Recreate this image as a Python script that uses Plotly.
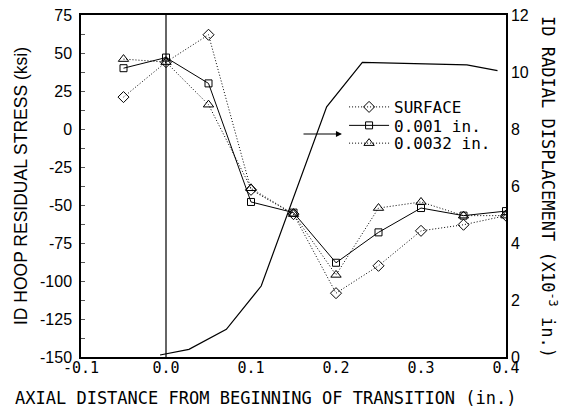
import plotly.graph_objects as go

# Stress data (left axis, ksi)
x_pos = [-0.05, 0.0, 0.05, 0.1, 0.15, 0.2, 0.25, 0.3, 0.35, 0.4]
surface = [21, 44, 62, -40, -56, -108, -90, -67, -63, -57]
depth_001 = [40, 47, 30, -48, -55, -88, -68, -52, -57, -54]
depth_0032 = [46, 44, 16, -39, -56, -96, -52, -48, -57, -57]

# Radial displacement (right axis, x10^-3 in.)
disp_x = [-0.007, 0.027, 0.071, 0.112, 0.189, 0.231, 0.354, 0.39]
disp_y = [0.07, 0.27, 0.97, 2.49, 8.78, 10.34, 10.25, 10.05]

# Tick labels
x_tick_vals = [-0.1, 0.0, 0.1, 0.2, 0.3, 0.4]
x_tick_text = ["-0.1", "0.0", "0.1", "0.2", "0.3", "0.4"]
y_tick_vals = [-150, -125, -100, -75, -50, -25, 0, 25, 50, 75]
y_tick_text = ["-150", "-125", "-100", "-75", "-50", "-25", "0", "25", "50", "75"]
y2_tick_vals = [0, 2, 4, 6, 8, 10, 12]
y2_tick_text = ["0", "2", "4", "6", "8", "10", "12"]

MONO = "DejaVu Sans Mono"
SANS = "Liberation Sans"
DOTS = "1px,2px"

fig = go.Figure()

fig.add_trace(go.Scatter(
    x=disp_x, y=disp_y, yaxis="y2", mode="lines",
    line=dict(color="black", width=1.2), showlegend=False))

fig.add_trace(go.Scatter(
    x=x_pos, y=surface, name="SURFACE", mode="lines+markers", legend="legend",
    line=dict(color="black", width=1, dash=DOTS),
    marker=dict(symbol="diamond-open", size=8.5, color="black", line=dict(width=1))))
fig.add_trace(go.Scatter(
    x=x_pos, y=depth_001, name="0.001 in.", mode="lines+markers", legend="legend2",
    line=dict(color="black", width=1),
    marker=dict(symbol="square-open", size=7, color="black", line=dict(width=1))))
fig.add_trace(go.Scatter(
    x=x_pos, y=depth_0032, name="0.0032 in.", mode="lines+markers", legend="legend3",
    line=dict(color="black", width=1, dash=DOTS),
    marker=dict(symbol="triangle-up-open", size=9, color="black", line=dict(width=1))))

# vertical reference line at x = 0
fig.add_shape(type="line", xref="x", yref="paper", x0=0, x1=0, y0=0, y1=1,
              line=dict(color="#666666", width=2), layer="below")

# arrow pointing to the right axis
fig.add_annotation(x=0.207, y=-3.3, ax=0.16, ay=-3.3, xref="x", yref="y",
                   axref="x", ayref="y", text="", showarrow=True,
                   arrowhead=2, arrowsize=1, arrowwidth=1.2, arrowcolor="black")

# Titles as annotations
fig.add_annotation(text="AXIAL DISTANCE FROM BEGINNING OF TRANSITION (in.)",
                   xref="paper", yref="paper", x=0.435, y=-0.12,
                   xanchor="center", yanchor="middle", showarrow=False,
                   font=dict(family=MONO, size=17, color="black"))
fig.add_annotation(text="ID HOOP RESIDUAL STRESS (ksi)",
                   xref="paper", yref="paper", x=-0.141, y=0.5,
                   xanchor="center", yanchor="middle", showarrow=False,
                   textangle=-90, font=dict(family=SANS, size=17.5, color="black"))
fig.add_annotation(text="ID RADIAL DISPLACEMENT (X10<sup>-3</sup> in.)",
                   xref="paper", yref="paper", x=1.101, y=0.497,
                   xanchor="center", yanchor="middle", showarrow=False,
                   textangle=90, font=dict(family=MONO, size=17, color="black"))

legend_common = dict(x=0.619, xanchor="left", yanchor="middle",
                     bgcolor="rgba(0,0,0,0)", borderwidth=0, itemwidth=40,
                     font=dict(family=MONO, size=16, color="black"))

fig.update_layout(
    width=565, height=409,
    margin=dict(l=81, r=59, t=15, b=52, autoexpand=False),
    paper_bgcolor="white", plot_bgcolor="white",
    xaxis=dict(range=[-0.1, 0.4], tickvals=x_tick_vals, ticktext=x_tick_text,
               showgrid=False, zeroline=False, showline=True, linecolor="black",
               linewidth=1.5, mirror=True, ticks="", automargin=False,
               ticklabelstandoff=-4,
               tickfont=dict(family=MONO, size=15, color="black")),
    yaxis=dict(range=[-150, 75], tickvals=y_tick_vals, ticktext=y_tick_text,
               showgrid=False, zeroline=False, showline=True, linecolor="black",
               linewidth=1.5, mirror=True, ticks="inside", ticklen=4,
               tickcolor="#555555", automargin=False, ticklabelstandoff=4,
               minor=dict(dtick=12.5, ticks="inside", ticklen=4, tickcolor="#555555"),
               tickfont=dict(family=SANS, size=16, color="black")),
    yaxis2=dict(range=[0, 12], overlaying="y", side="right",
                tickvals=y2_tick_vals, ticktext=y2_tick_text,
                showgrid=False, zeroline=False, showline=True, linecolor="black",
                linewidth=1.5, ticks="", automargin=False,
                tickfont=dict(family=SANS, size=16, color="black")),
    legend=dict(y=0.731, **legend_common),
    legend2=dict(y=0.677, **legend_common),
    legend3=dict(y=0.625, **legend_common),
    showlegend=True,
)

fig.write_html("out.html", config={"displayModeBar": False},
               post_script="document.body.style.margin='0';document.body.style.padding='0';")
